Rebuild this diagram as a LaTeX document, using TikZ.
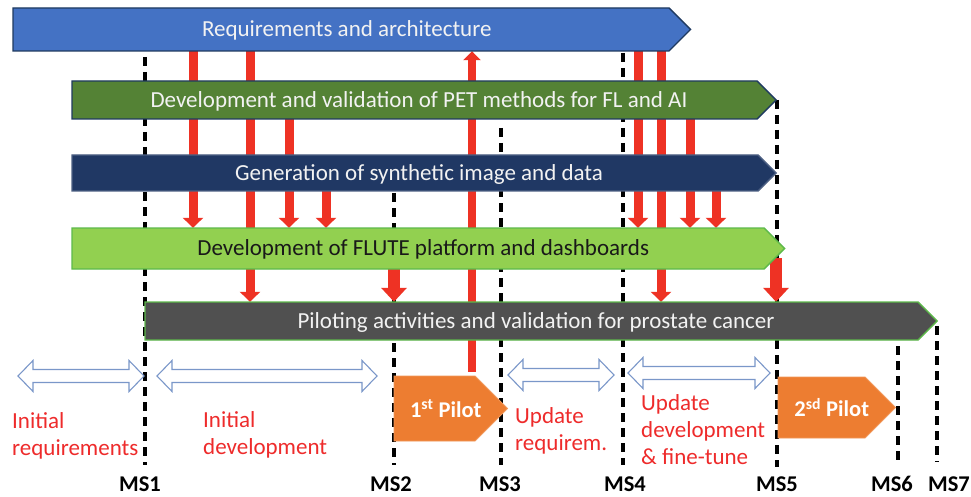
\documentclass[tikz,border=0pt]{standalone}
\usepackage{fontspec}
\setmainfont{Carlito}
\usetikzlibrary{arrows.meta,backgrounds}

\pgfdeclarelayer{paper}
\pgfsetlayers{paper,background,main}

\definecolor{reqblue}{HTML}{4472C4}
\definecolor{petgreen}{HTML}{548235}
\definecolor{synnavy}{HTML}{203864}
\definecolor{flutegreen}{HTML}{92D050}
\definecolor{pilotgray}{HTML}{505050}
\definecolor{edgenavy}{HTML}{1F3A60}
\definecolor{edgegreen}{HTML}{5DB94A}
\definecolor{pilotorange}{HTML}{ED7D31}
\definecolor{flowred}{HTML}{EE3224}
\definecolor{labelred}{HTML}{EE2B2B}
\definecolor{spanblue}{HTML}{7A97C9}

\tikzset{
  barfont/.style={font=\fontsize{23}{27}\selectfont},
  bartext/.style={barfont, inner sep=0pt, text=white!95!black,
    text height=19.5pt, text depth=5pt},
  platereq/.style={fill=reqblue, draw=edgenavy, line width=1.4pt},
  platepet/.style={fill=petgreen, draw=edgenavy, line width=1.4pt},
  platesyn/.style={fill=synnavy, draw=synnavy!80!white, line width=1.4pt},
  plateflute/.style={fill=flutegreen, draw=edgegreen, line width=1.4pt},
  platepilot/.style={fill=pilotgray, draw=edgegreen, line width=1.4pt},
  plateorange/.style={fill=pilotorange, draw=pilotorange!80!white, line width=0.8pt},
  pilottext/.style={inner sep=0pt, text=white,
    font=\bfseries\fontsize{22.5}{26}\selectfont},
  flowarrow/.style={draw=flowred, line width=9pt,
    -{Triangle[width=20pt,length=10pt]}},
  bigflow/.style={draw=flowred, line width=12pt,
    -{Triangle[width=25pt,length=14pt]}},
  upflow/.style={draw=flowred, line width=8pt,
    -{Triangle[width=17pt,length=9pt]}},
  msline/.style={draw=black, line width=3.2pt, dash pattern=on 9pt off 6pt},
  mslabel/.style={inner sep=0pt, anchor=base,
    font=\bfseries\fontsize{22.5}{26}\selectfont},
  phase/.style={inner sep=0pt, anchor=base west, align=left, text=labelred,
    font=\fontsize{23}{27}\selectfont},
  spanline/.style={draw=spanblue, fill=white, line width=1.1pt, line join=miter}
}

% home-plate bar: name, bar style, text style, left x, flat-end x, top y, bottom y, text
\newcommand\plate[8]{%
  \path[#2] (#4,#6) -- (#5,#6) -- ({#5+(#7-#6)/2},{(#6+#7)/2}) -- (#5,#7) -- (#4,#7) -- cycle;
  \node[#3, minimum height={(#7-#6)*1pt}] (#1)
    at ({(#4+#5+(#7-#6)/2)/2-5},{(#6+#7)/2}) {#8};
}

% hollow double-headed span arrow: left x, right x, centre y
\newcommand\spanarrow[3]{%
  \draw[spanline] (#1,#3) -- ({#1+15},{#3-15.5}) -- ({#1+15},{#3-6.5})
    -- ({#2-15},{#3-6.5}) -- ({#2-15},{#3-15.5}) -- (#2,#3)
    -- ({#2-15},{#3+15.5}) -- ({#2-15},{#3+6.5}) -- ({#1+15},{#3+6.5})
    -- ({#1+15},{#3+15.5}) -- cycle;
}

\begin{document}
\begin{tikzpicture}[x=1pt, y=-1pt, line cap=butt]
  \useasboundingbox (0,0) rectangle (971,497);
  \begin{pgfonlayer}{paper}
    \fill[white] (0,0) rectangle (971,497);
  \end{pgfonlayer}

  % milestone lines
  \begin{pgfonlayer}{paper}
    \draw[msline] (145,57) -- (145,465);
    \draw[msline] (394,193) -- (394,465);
    \draw[msline] (501,128) -- (501,465);
    \draw[msline] (623,53) -- (623,465);
    \draw[msline] (777,100) -- (777,467);
    \draw[msline] (898,346) -- (898,460);
    \draw[msline] (937,326) -- (937,462);
  \end{pgfonlayer}

  % work packages
  \plate{req}{platereq}{bartext}{13}{669}{8}{51}{Requirements and architecture}
  \plate{pet}{platepet}{bartext}{72}{757}{81}{119}{Development and validation of PET methods for FL and AI}
  \plate{syn}{platesyn}{bartext}{72}{758}{155}{191}{Generation of synthetic image and data}
  \plate{flute}{plateflute}{bartext,text=black!90}{72}{764}{228}{269}{Development of FLUTE platform and dashboards}
  \plate{pilot}{platepilot}{bartext}{145}{918}{302}{340}{Piloting activities and validation for prostate cancer}

  % pilots
  \plate{pone}{plateorange}{pilottext}{394}{475}{376}{441}{1\textsuperscript{st} Pilot}
  \plate{ptwo}{plateorange}{pilottext}{778}{865}{377}{438}{2\textsuperscript{sd} Pilot}

  % flows between work packages
  \begin{pgfonlayer}{background}
    \draw[flowarrow] (req.south -| 193,0) -- (flute.north -| 193,0);
    \draw[flowarrow] (req.south -| 250,0) -- (pilot.north -| 250,0);
    \draw[flowarrow] (pet.south -| 289,0) -- (flute.north -| 289,0);
    \draw[flowarrow] (syn.south -| 326,0) -- (flute.north -| 326,0);
    \draw[flowarrow] (req.south -| 638,0) -- (flute.north -| 638,0);
    \draw[flowarrow] (req.south -| 661,0) -- (pilot.north -| 661,0);
    \draw[flowarrow] (pet.south -| 690,0) -- (flute.north -| 690,0);
    \draw[flowarrow] (syn.south -| 716,0) -- (flute.north -| 716,0);
    \draw[bigflow] (flute.south -| 394,0) -- (pilot.north -| 394,0);
    \draw[bigflow] ([yshift=11pt]flute.south -| 776,0) -- (pilot.north -| 776,0);
    \draw[upflow] ([yshift=4pt]pone.north -| 472,0) -- (req.south -| 472,0);
  \end{pgfonlayer}

  % phase spans
  \spanarrow{18}{144}{376}
  \spanarrow{157}{377}{376}
  \spanarrow{508}{614}{375}
  \spanarrow{628}{770}{373}

  % phase labels (anchored on the baseline of the last line)
  \node[phase] (lreq) at (12,455) {Initial\\requirements};
  \node[phase] (ldev) at (203,454) {Initial\\development};
  \node[phase] (lupd) at (515,450) {Update\\requirem.};
  \node[phase] (lfine) at (641,464) {Update\\development\\\& fine-tune};

  % milestones
  \node[mslabel] (ms1) at (140,491) {MS1};
  \node[mslabel] (ms2) at (391,491) {MS2};
  \node[mslabel] (ms3) at (500,491) {MS3};
  \node[mslabel] (ms4) at (625,491) {MS4};
  \node[mslabel] (ms5) at (777,491) {MS5};
  \node[mslabel] (ms6) at (892,491) {MS6};
  \node[mslabel] (ms7) at (949,491) {MS7};
\end{tikzpicture}
\end{document}
